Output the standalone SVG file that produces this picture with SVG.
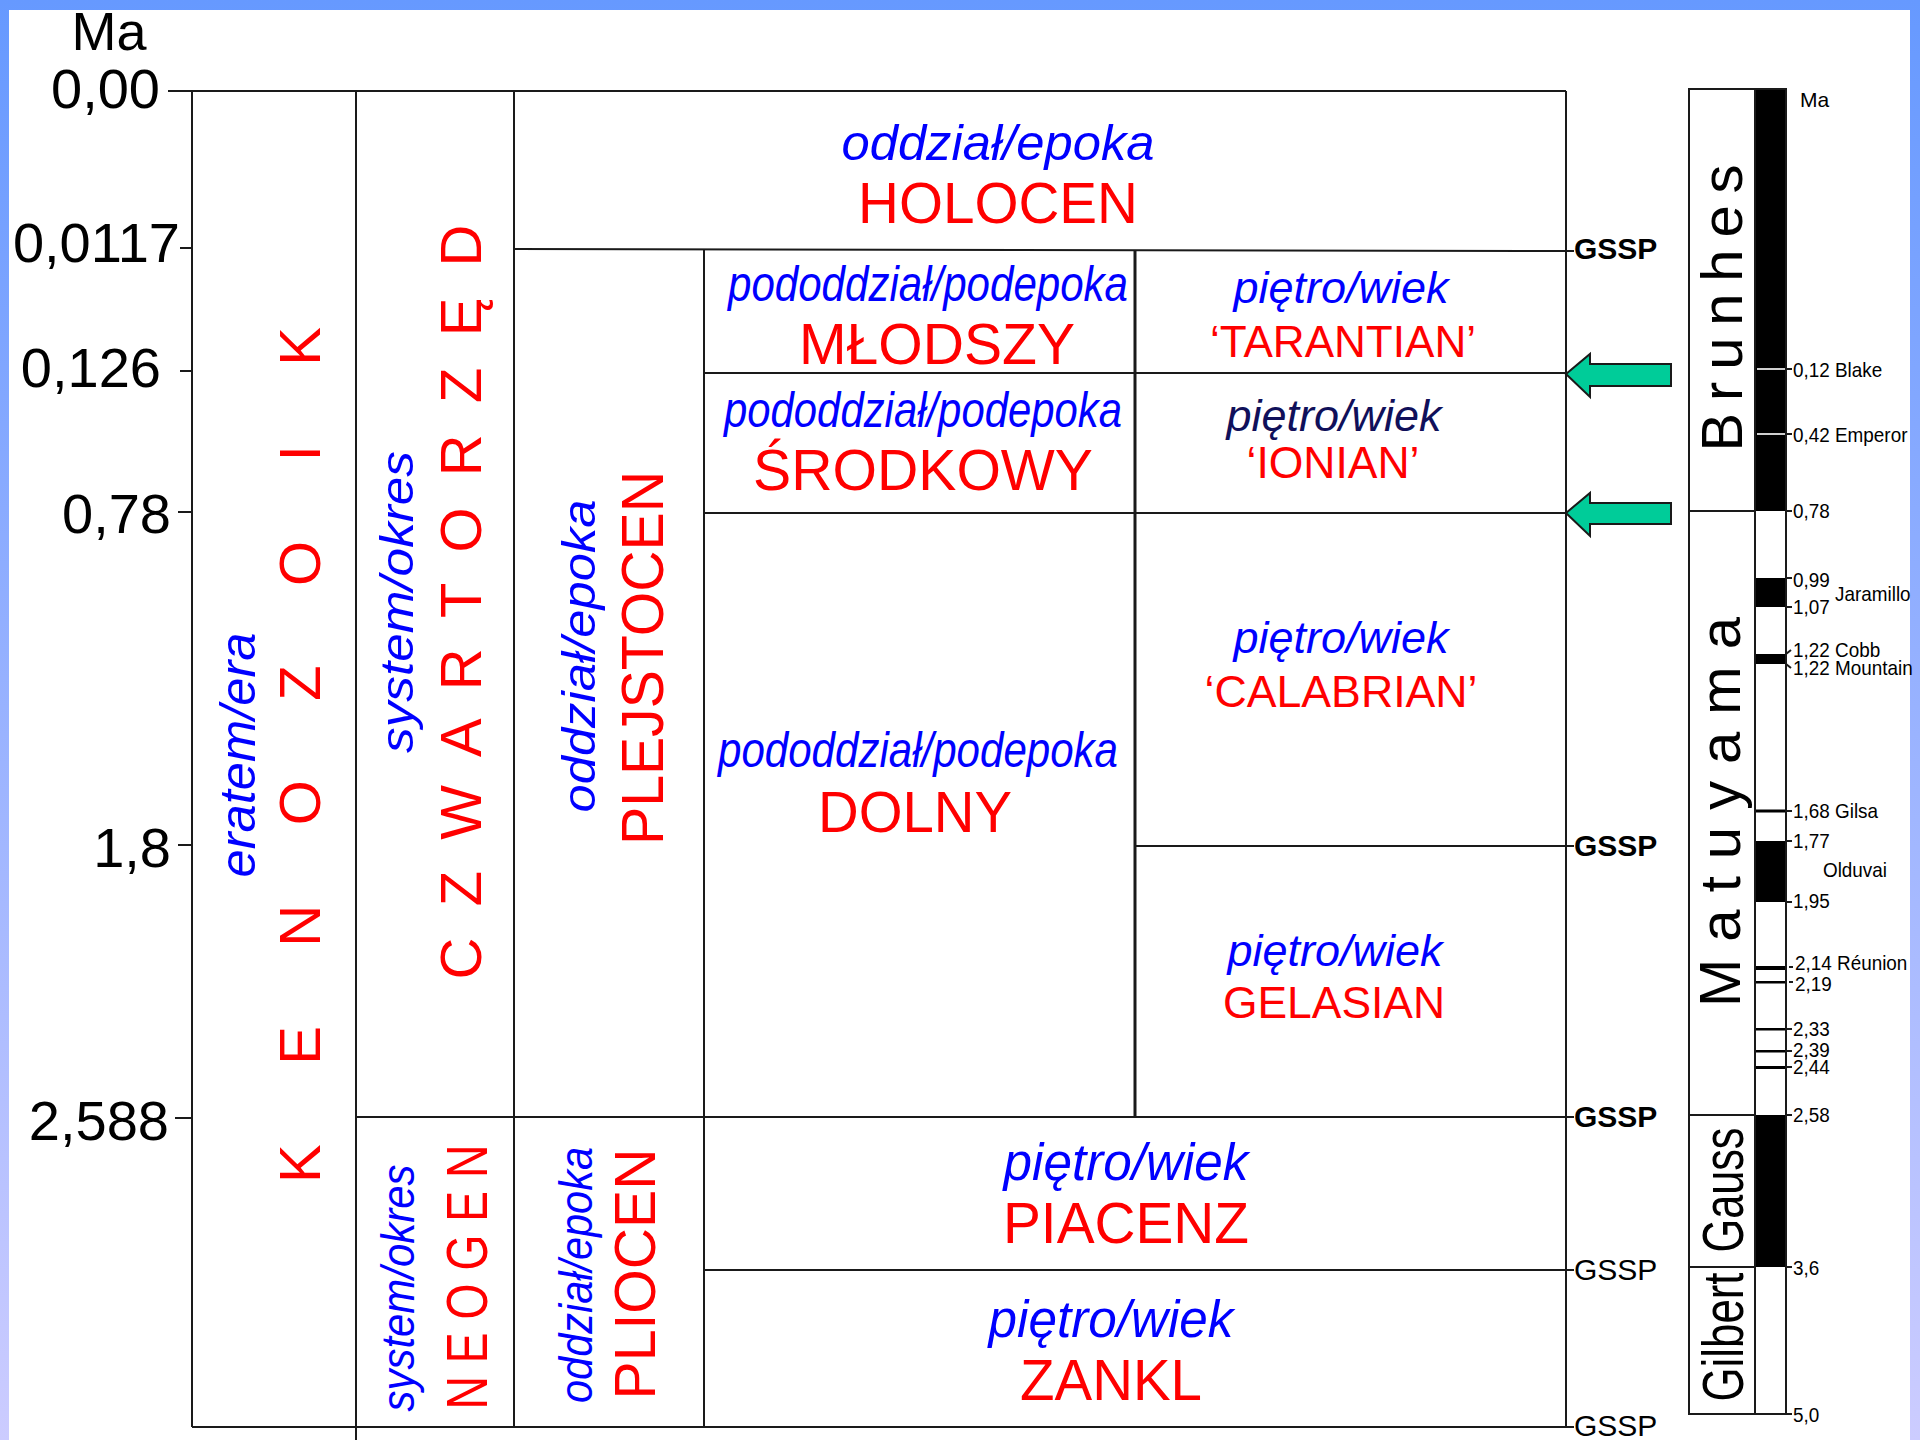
<svg xmlns="http://www.w3.org/2000/svg" width="1920" height="1440" viewBox="0 0 1920 1440">
<defs>
<linearGradient id="bg" x1="0" y1="0" x2="0" y2="1">
<stop offset="0" stop-color="#6699ff"/>
<stop offset="1" stop-color="#ccccff"/>
</linearGradient>
<style>
text{font-family:"Liberation Sans",Arial,sans-serif}
.ln{stroke:#1a1a1a;stroke-width:2;fill:none}
.lt{stroke:#1a1a1a;stroke-width:3;fill:none}
.ax{font-size:56px;fill:#000;text-anchor:end}
.b{fill:#0000ff;font-style:italic}
.nv{fill:#10105a;font-style:italic}
.r{fill:#ff0000}
.m{text-anchor:middle}
.g{font-size:30px;fill:#000}
.gb{font-size:30px;fill:#000;font-weight:bold}
.mg{font-size:21px;fill:#000}
.nm{font-size:58px;fill:#000;text-anchor:middle}
.arr{fill:#00cc99;stroke:#1a1a1a;stroke-width:2}
.blk{fill:#000}
</style>
</defs>
<rect x="0" y="0" width="1920" height="1440" fill="url(#bg)"/>
<rect x="9" y="10" width="1901" height="1430" fill="#ffffff"/>

<g id="connectors">
<line class="ln" x1="168" y1="91" x2="1566" y2="91"/>
<line class="ln" x1="192" y1="91" x2="192" y2="1427"/>
<line class="ln" x1="356" y1="91" x2="356" y2="1440"/>
<line class="ln" x1="514" y1="91" x2="514" y2="1427"/>
<line class="ln" x1="704" y1="250" x2="704" y2="1427"/>
<line class="lt" x1="1135" y1="250" x2="1135" y2="1117"/>
<line class="ln" x1="1566" y1="91" x2="1566" y2="1427"/>
<line class="ln" x1="514" y1="249" x2="1574" y2="251"/>
<line class="ln" x1="704" y1="373" x2="1566" y2="373"/>
<line class="ln" x1="704" y1="513" x2="1566" y2="513"/>
<line class="ln" x1="1135" y1="846" x2="1574" y2="846"/>
<line class="ln" x1="356" y1="1117" x2="1574" y2="1117"/>
<line class="ln" x1="704" y1="1270" x2="1574" y2="1270"/>
<line class="ln" x1="192" y1="1427" x2="1574" y2="1427"/>
<line class="ln" x1="180" y1="248" x2="192" y2="248"/>
<line class="ln" x1="180" y1="371" x2="192" y2="371"/>
<line class="ln" x1="178" y1="512" x2="192" y2="512"/>
<line class="ln" x1="178" y1="845" x2="192" y2="845"/>
<line class="ln" x1="175" y1="1118" x2="192" y2="1118"/>
<polygon class="arr" points="1566,374 1590,354 1590,364 1671,364 1671,386 1590,386 1590,397"/>
<polygon class="arr" points="1566,513 1590,493 1590,503 1671,503 1671,524 1590,524 1590,536"/>
</g>

<g id="axis">
<text x="109" y="50" font-size="54" class="m" fill="#000">Ma</text>
<text class="ax" x="160" y="108">0,00</text>
<text class="ax" x="180" y="262">0,0117</text>
<text class="ax" x="161" y="387">0,126</text>
<text class="ax" x="171" y="533">0,78</text>
<text class="ax" x="171" y="867">1,8</text>
<text class="ax" x="169" y="1140">2,588</text>
</g>

<g id="eratem">
<text class="b m" font-size="50" transform="translate(255,755) rotate(-90)" textLength="245" lengthAdjust="spacingAndGlyphs">eratem/era</text>
<text class="r m" font-size="58" transform="translate(320,755) rotate(-90)" textLength="856" lengthAdjust="spacing">K E N O Z O I K</text>
</g>

<g id="czwartorzed">
<text class="b m" font-size="46" transform="translate(413,602) rotate(-90)" textLength="302" lengthAdjust="spacingAndGlyphs">system/okres</text>
<text class="r m" font-size="58" transform="translate(481,602) rotate(-90)" textLength="755" lengthAdjust="spacing">C Z W A R T O R Z Ę D</text>
</g>

<g id="neogen">
<text class="b m" font-size="46" transform="translate(414,1288) rotate(-90)" textLength="247" lengthAdjust="spacingAndGlyphs">system/okres</text>
<text class="r m" font-size="58" transform="translate(487,1277) rotate(-90)" textLength="265" lengthAdjust="spacingAndGlyphs">N E O G E N</text>
</g>

<g id="plejstocen">
<text class="b m" font-size="46" transform="translate(595,656) rotate(-90)" textLength="313" lengthAdjust="spacingAndGlyphs">oddział/epoka</text>
<text class="r m" font-size="60" transform="translate(663,658) rotate(-90)" textLength="374" lengthAdjust="spacingAndGlyphs">PLEJSTOCEN</text>
</g>

<g id="pliocen">
<text class="b m" font-size="46" transform="translate(592,1275) rotate(-90)" textLength="256" lengthAdjust="spacingAndGlyphs">oddział/epoka</text>
<text class="r m" font-size="58" transform="translate(655,1274) rotate(-90)" textLength="251" lengthAdjust="spacingAndGlyphs">PLIOCEN</text>
</g>

<g id="holocen">
<text class="b m" x="998" y="160" font-size="50" textLength="313" lengthAdjust="spacingAndGlyphs">oddział/epoka</text>
<text class="r m" x="998" y="223" font-size="57" textLength="280" lengthAdjust="spacingAndGlyphs">HOLOCEN</text>
</g>

<g id="mlodszy">
<text class="b m" x="928" y="301" font-size="50" textLength="400" lengthAdjust="spacingAndGlyphs">pododdział/podepoka</text>
<text class="r m" x="937" y="364" font-size="57" textLength="276" lengthAdjust="spacingAndGlyphs">MŁODSZY</text>
</g>

<g id="srodkowy">
<text class="b m" x="923" y="427" font-size="50" textLength="398" lengthAdjust="spacingAndGlyphs">pododdział/podepoka</text>
<text class="r m" x="923" y="490" font-size="57" textLength="340" lengthAdjust="spacingAndGlyphs">ŚRODKOWY</text>
</g>

<g id="dolny">
<text class="b m" x="918" y="767" font-size="50" textLength="400" lengthAdjust="spacingAndGlyphs">pododdział/podepoka</text>
<text class="r m" x="915" y="832" font-size="57" textLength="194" lengthAdjust="spacingAndGlyphs">DOLNY</text>
</g>

<g id="tarantian">
<text class="b m" x="1341" y="303" font-size="45" textLength="215" lengthAdjust="spacingAndGlyphs">piętro/wiek</text>
<text class="r m" x="1343" y="357" font-size="45" textLength="266" lengthAdjust="spacingAndGlyphs">‘TARANTIAN’</text>
</g>

<g id="ionian">
<text class="nv m" x="1334" y="431" font-size="45" textLength="215" lengthAdjust="spacingAndGlyphs">piętro/wiek</text>
<text class="r m" x="1333" y="478" font-size="45" textLength="173" lengthAdjust="spacingAndGlyphs">‘IONIAN’</text>
</g>

<g id="calabrian">
<text class="b m" x="1341" y="653" font-size="45" textLength="215" lengthAdjust="spacingAndGlyphs">piętro/wiek</text>
<text class="r m" x="1341" y="707" font-size="45" textLength="273" lengthAdjust="spacingAndGlyphs">‘CALABRIAN’</text>
</g>

<g id="gelasian">
<text class="b m" x="1335" y="966" font-size="45" textLength="215" lengthAdjust="spacingAndGlyphs">piętro/wiek</text>
<text class="r m" x="1334" y="1018" font-size="45" textLength="222" lengthAdjust="spacingAndGlyphs">GELASIAN</text>
</g>

<g id="piacenz">
<text class="b m" x="1126" y="1180" font-size="51" textLength="245" lengthAdjust="spacingAndGlyphs">piętro/wiek</text>
<text class="r m" x="1126" y="1243" font-size="57" textLength="246" lengthAdjust="spacingAndGlyphs">PIACENZ</text>
</g>

<g id="zankl">
<text class="b m" x="1111" y="1337" font-size="51" textLength="245" lengthAdjust="spacingAndGlyphs">piętro/wiek</text>
<text class="r m" x="1111" y="1400" font-size="57" textLength="182" lengthAdjust="spacingAndGlyphs">ZANKL</text>
</g>

<g id="gssp">
<text class="gb" x="1574" y="259">GSSP</text>
<text class="gb" x="1574" y="856">GSSP</text>
<text class="gb" x="1574" y="1127">GSSP</text>
<text class="g" x="1574" y="1280">GSSP</text>
<text class="g" x="1574" y="1436">GSSP</text>
</g>

<g id="magnetostratigraphy">
<rect class="ln" x="1689" y="89" width="66" height="1325"/>
<rect class="blk" x="1755" y="89" width="31" height="422"/>
<rect class="blk" x="1755" y="578" width="31" height="29"/>
<rect class="blk" x="1755" y="654" width="31" height="10"/>
<rect class="blk" x="1755" y="809.5" width="31" height="3"/>
<rect class="blk" x="1755" y="841" width="31" height="61"/>
<rect class="blk" x="1755" y="966" width="31" height="4"/>
<rect class="blk" x="1755" y="981" width="31" height="2.5"/>
<rect class="blk" x="1755" y="1028" width="31" height="2.5"/>
<rect class="blk" x="1755" y="1050" width="31" height="2.5"/>
<rect class="blk" x="1755" y="1066" width="31" height="3"/>
<rect class="blk" x="1755" y="1115" width="31" height="152"/>
<line x1="1757" y1="369" x2="1786" y2="369" stroke="#cfcfcf" stroke-width="2"/>
<line x1="1757" y1="434" x2="1786" y2="434" stroke="#cfcfcf" stroke-width="2"/>
<rect class="ln" x="1755" y="89" width="31" height="1325"/>
<line class="ln" x1="1689" y1="511" x2="1755" y2="511"/>
<line class="ln" x1="1689" y1="1115" x2="1755" y2="1115"/>
<line class="ln" x1="1689" y1="1267" x2="1755" y2="1267"/>
<g stroke="#1a1a1a" stroke-width="2">
<line x1="1786" y1="369" x2="1792" y2="369"/>
<line x1="1786" y1="434" x2="1792" y2="434"/>
<line x1="1786" y1="511" x2="1792" y2="511"/>
<line x1="1786" y1="578" x2="1792" y2="578"/>
<line x1="1786" y1="607" x2="1792" y2="607"/>
<line x1="1786" y1="654" x2="1791" y2="650"/>
<line x1="1786" y1="664" x2="1791" y2="668"/>
<line x1="1786" y1="811" x2="1792" y2="811"/>
<line x1="1786" y1="841" x2="1792" y2="841"/>
<line x1="1786" y1="902" x2="1792" y2="902"/>
<line x1="1789" y1="967" x2="1793" y2="967"/>
<line x1="1789" y1="982" x2="1793" y2="982"/>
<line x1="1786" y1="1029" x2="1792" y2="1029"/>
<line x1="1786" y1="1051" x2="1792" y2="1051"/>
<line x1="1786" y1="1067" x2="1792" y2="1067"/>
<line x1="1786" y1="1115" x2="1792" y2="1115"/>
<line x1="1786" y1="1267" x2="1792" y2="1267"/>
<line x1="1786" y1="1414" x2="1792" y2="1414"/>
</g>
<text class="mg" x="1800" y="107">Ma</text>
<g transform="matrix(0.9,0,0,1,179.3,0)">
<text class="mg" x="1793" y="377">0,12 Blake</text>
<text class="mg" x="1793" y="442">0,42 Emperor</text>
<text class="mg" x="1793" y="518">0,78</text>
<text class="mg" x="1793" y="587">0,99</text>
<text class="mg" x="1839.7" y="601">Jaramillo</text>
<text class="mg" x="1793" y="614">1,07</text>
<text class="mg" x="1793" y="657">1,22 Cobb</text>
<text class="mg" x="1793" y="675">1,22 Mountain</text>
<text class="mg" x="1793" y="818">1,68 Gilsa</text>
<text class="mg" x="1793" y="848">1,77</text>
<text class="mg" x="1826.3" y="877">Olduvai</text>
<text class="mg" x="1793" y="908">1,95</text>
<text class="mg" x="1795.2" y="970">2,14 Réunion</text>
<text class="mg" x="1795.2" y="991">2,19</text>
<text class="mg" x="1793" y="1036">2,33</text>
<text class="mg" x="1793" y="1057">2,39</text>
<text class="mg" x="1793" y="1074">2,44</text>
<text class="mg" x="1793" y="1122">2,58</text>
<text class="mg" x="1793" y="1275">3,6</text>
<text class="mg" x="1793" y="1422">5,0</text>
</g>
<text class="nm" transform="translate(1742,308) rotate(-90)" textLength="287" lengthAdjust="spacing">B r u n h e s</text>
<text class="nm" transform="translate(1740,812) rotate(-90)" textLength="390" lengthAdjust="spacing">M a t u y a m a</text>
<text class="nm" font-size="57" transform="translate(1743,1190) rotate(-90)" textLength="125" lengthAdjust="spacingAndGlyphs">Gauss</text>
<text class="nm" font-size="57" transform="translate(1743,1337) rotate(-90)" textLength="129" lengthAdjust="spacingAndGlyphs">Gilbert</text>
</g>
</svg>
